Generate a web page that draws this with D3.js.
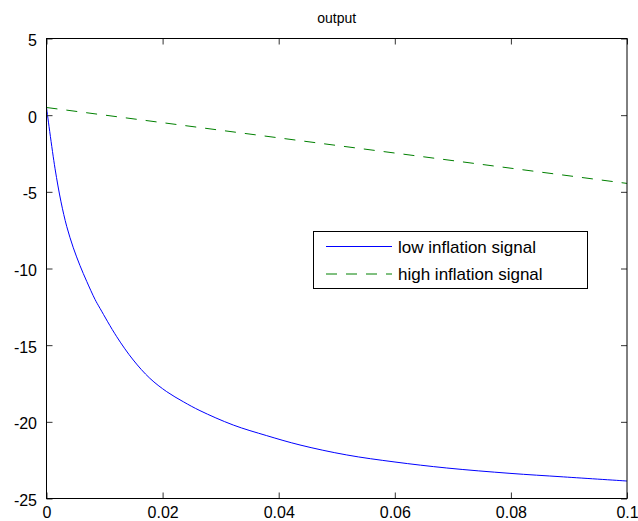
<!DOCTYPE html>
<html>
<head>
<meta charset="utf-8">
<script src="https://cdn.jsdelivr.net/npm/d3@7"></script>
<style>
  html, body { margin: 0; padding: 0; background: #fff; }
  svg { display: block; font-family: "Liberation Sans", Arial, sans-serif; }
</style>
</head>
<body>
<svg id="chart" width="638" height="521"></svg>
<script>
// ---- data ----
const title = "output";
const lowX = [0, 0.00146, 0.0025, 0.00348, 0.00462, 0.00577, 0.00693, 0.00835, 0.00922, 0.0121, 0.01495, 0.0178, 0.0207, 0.02357, 0.02644, 0.03218, 0.03793, 0.04367, 0.05172, 0.06003, 0.06894, 0.07984, 0.08903, 0.1];
const lowY = [0.5, -3.46, -5.65, -7.25, -8.65, -9.81, -10.84, -12.01, -12.6, -14.45, -15.97, -17.16, -18.03, -18.69, -19.27, -20.21, -20.9, -21.51, -22.16, -22.62, -23.01, -23.36, -23.59, -23.86];
const highX = [0, 0.1];
const highY = [0.5, -4.45];
const seriesNames = ["low inflation signal", "high inflation signal"];
const xTicks = [0, 0.02, 0.04, 0.06, 0.08, 0.1];
const xTickLabels = ["0", "0.02", "0.04", "0.06", "0.08", "0.1"];
const yTicks = [5, 0, -5, -10, -15, -20, -25];
const yTickLabels = ["5", "0", "-5", "-10", "-15", "-20", "-25"];

// ---- layout ----
const pL = 46.5, pR = 627, pT = 38.5, pB = 498.5;
const svg = d3.select("#chart");
const x = d3.scaleLinear().domain([0, 0.1]).range([pL, pR]);
const y = d3.scaleLinear().domain([-25, 5]).range([pB, pT]);
const FONT = "'Liberation Sans', Arial, sans-serif";

// title
svg.append("text").attr("x", (pL + pR) / 2).attr("y", 23)
  .attr("text-anchor", "middle").attr("font-size", 14).attr("font-family", FONT)
  .attr("fill", "#000").text(title);

// series
const line = d3.line().x(d => x(d[0])).y(d => y(d[1])).curve(d3.curveCatmullRom.alpha(0.5));
const lowData = lowX.map((v, i) => [v, lowY[i]]);
const highData = highX.map((v, i) => [v, highY[i]]);
svg.append("path").datum(lowData).attr("d", line)
  .attr("fill", "none").attr("stroke", "#0000ff").attr("stroke-width", 1);
svg.append("path").datum(highData).attr("d", d3.line().x(d => x(d[0])).y(d => y(d[1])))
  .attr("fill", "none").attr("stroke", "#008000").attr("stroke-width", 1)
  .attr("stroke-dasharray", "11,9");

// axes with inside ticks
const tl = 6;
const fmtX = (d, i) => xTickLabels[i];
const fmtY = (d, i) => yTickLabels[i];
const gB = svg.append("g").attr("transform", `translate(0,${pB})`)
  .call(d3.axisBottom(x).tickValues(xTicks).tickFormat(fmtX).tickSizeInner(-tl).tickSizeOuter(0).tickPadding(8.5));
const gT = svg.append("g").attr("transform", `translate(0,${pT})`)
  .call(d3.axisTop(x).tickValues(xTicks).tickFormat("").tickSizeInner(-tl).tickSizeOuter(0));
const gL = svg.append("g").attr("transform", `translate(${pL},0)`)
  .call(d3.axisLeft(y).tickValues(yTicks).tickFormat(fmtY).tickSizeInner(-tl).tickSizeOuter(0).tickPadding(9.5));
const gR = svg.append("g").attr("transform", `translate(${pR},0)`)
  .call(d3.axisRight(y).tickValues(yTicks).tickFormat("").tickSizeInner(-tl).tickSizeOuter(0));
[gB, gT, gL, gR].forEach(g => {
  g.select(".domain").remove();
  g.selectAll(".tick line").attr("stroke", "#333");
  g.selectAll("text").attr("font-size", 16).attr("fill", "#000").attr("font-family", FONT);
});
gL.selectAll("text").attr("transform", "translate(0,2)");

// box
svg.append("rect").attr("x", pL).attr("y", pT)
  .attr("width", pR - pL).attr("height", pB - pT)
  .attr("fill", "none").attr("stroke", "#000").attr("stroke-width", 1);

// legend
const lg = svg.append("g");
lg.append("rect").attr("x", 313.5).attr("y", 231.5).attr("width", 274).attr("height", 57)
  .attr("fill", "#fff").attr("stroke", "#000").attr("stroke-width", 1);
const legendStyles = [{c: "#0000ff", dash: null}, {c: "#008000", dash: "11,9"}];
seriesNames.forEach((name, i) => {
  const yy = 246.5 + i * 27.5;
  const l = lg.append("line").attr("x1", 326).attr("x2", 392).attr("y1", yy).attr("y2", yy)
    .attr("stroke", legendStyles[i].c).attr("stroke-width", 1);
  if (legendStyles[i].dash) l.attr("stroke-dasharray", legendStyles[i].dash);
  lg.append("text").attr("x", 398).attr("y", yy + 6).attr("font-size", 17)
    .attr("font-family", FONT).attr("fill", "#000").text(name);
});
</script>
</body>
</html>
